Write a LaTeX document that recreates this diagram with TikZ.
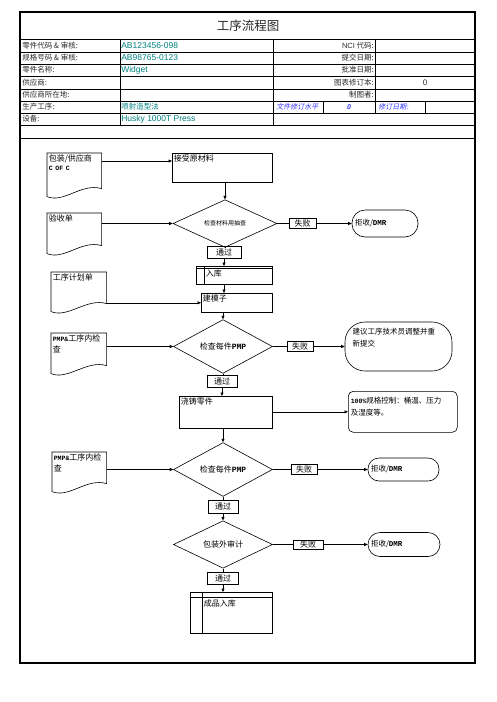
\documentclass[tikz,border=0pt]{standalone}
\usepackage{fontspec}
\setmainfont{Noto Sans CJK SC}
\newfontfamily\arial{Liberation Sans}
\newfontfamily\mono{Liberation Mono}
\newfontfamily\cjkit[FakeSlant=0.2]{Noto Sans CJK SC}
\usetikzlibrary{shapes.geometric,arrows.meta}
\definecolor{tealtxt}{RGB}{0,128,128}
\definecolor{bluetxt}{RGB}{51,51,255}
\definecolor{txtgray}{RGB}{40,40,40}
\newcommand{\mb}[1]{{\mono\bfseries #1}}
\tikzset{
  arr/.style={-{Triangle[length=3.5pt,width=3pt]}},
  cell/.style={inner sep=0pt,text=txtgray,font=\fontsize{7.5}{9}\selectfont},
  valtxt/.style={inner sep=0pt,anchor=west,text=tealtxt,font=\fontsize{8.5}{10}\selectfont},
  bluecell/.style={inner sep=0pt,text=bluetxt,font=\cjkit\fontsize{7}{9}\selectfont},
  procbox/.style={draw,anchor=north west,inner sep=0pt},
  boxtxt/.style={anchor=north west,inner sep=1.5pt,align=left,font=\fontsize{8}{11}\selectfont},
  docbox/.style={anchor=north west,inner sep=0pt,minimum width=54pt},
  doctxt/.style={anchor=north west,inner sep=1.5pt,align=left,text width=52pt,font=\fontsize{8}{11}\selectfont},
  decision/.style={draw,diamond,inner sep=0pt,minimum width=99pt,minimum height=35pt,font=\fontsize{8}{10}\selectfont},
  tag/.style={draw,inner sep=0pt,minimum height=10pt,font=\fontsize{8}{10}\selectfont},
  term/.style={draw,inner sep=2pt,align=left,font=\fontsize{7.5}{10}\selectfont},
}
\begin{document}
\begin{tikzpicture}[x=1pt,y=-1pt,line width=0.6pt]
\useasboundingbox (0,0) rectangle (496,702);
%%% header table
\draw[line width=1.2pt] (20,12) rectangle (475,663);
\foreach \y in {39,52,64,76,89,101,113,125,138}
  \draw (20,\y) -- (475,\y);
\draw (120,39) -- (120,125);
\draw (273,39) -- (273,125);
\draw (375,39) -- (375,113);
\draw (323,101) -- (323,113);
\draw (425,101) -- (425,113);
\node[font=\fontsize{12.5}{14}\selectfont,text=txtgray] (title) at (248,25.5) {工序流程图};
\foreach \t/\y [count=\i] in {{零件代码 \& 审核:}/45.5,{规格号码 \& 审核:}/58,零件名称:/70,供应商:/82.5,供应商所在地:/95,生产工序:/107,设备:/119}
  \node[cell,anchor=west] (lab\i) at (22,\y) {\t};
\foreach \t/\y [count=\i] in {AB123456-098/45.5,AB98765-0123/58,Widget/70,Husky 1000T Press/119}
  \node[valtxt] (val\i) at (121,\y) {\arial \t};
\node[valtxt,font=\fontsize{7.5}{9}\selectfont] (proc) at (121,107) {喷射造型法};
\foreach \t/\y [count=\i] in {{\arial NCI} 代码:/45.5,提交日期:/58,批准日期:/70,图表修订本:/82.5,制图者:/95}
  \node[cell,anchor=east] (rlab\i) at (374,\y) {\t};
\node[cell,font=\arial\fontsize{8}{9}\selectfont] (rev) at (425,82.5) {0};
\node[bluecell,anchor=west] (docrev) at (276,107) {文件修订水平};
\node[bluecell,font=\arial\itshape\bfseries\fontsize{7}{9}\selectfont] (docrevno) at (349,107) {0};
\node[bluecell,anchor=west] (revdate) at (378,107) {修订日期:};
%%% documents on the left
\node[docbox,minimum height=35pt,label={[doctxt]north west:包装/供应商\\[-2pt]{\fontsize{6.5}{8}\selectfont\mb{C OF C}}}] (d1) at (47,153) {};
\node[docbox,minimum height=32pt,label={[doctxt]north west:验收单}] (d2) at (47,213) {};
\node[docbox,minimum width=55pt,minimum height=31pt,label={[doctxt]north west:工序计划单}] (d3) at (51,272) {};
\node[docbox,minimum width=55pt,minimum height=32pt,label={[doctxt]north west:{\fontsize{6.5}{8}\selectfont\mb{PMP\&}}工序内检\\查}] (d4) at (51,333) {};
\node[docbox,minimum height=31pt,label={[doctxt]north west:{\fontsize{6.5}{8}\selectfont\mb{PMP\&}}工序内检\\查}] (d5) at (52,452) {};
\foreach \d in {d1,d2,d3,d4,d5}
  \draw (\d.north west) -- (\d.north east) -- (\d.south east)
    .. controls +(-20,-6) and +(17,7) .. ([yshift=-8pt]\d.south west) -- cycle;
%%% main column
\node[procbox,minimum width=100pt,minimum height=29pt,label={[boxtxt]north west:接受原材料}] (recv) at (172,153) {};
\node[decision,minimum width=104pt,minimum height=31pt,font=\fontsize{6}{8}\selectfont] (dia1) at (225,223.5) {检查材料用抽查};
\node[tag,minimum width=34pt,minimum height=12pt] (pass1) at (224,252) {通过};
\node[procbox,minimum width=76pt,minimum height=18pt,label={[boxtxt,xshift=8pt,yshift=-2pt]north west:入库}] (store) at (196,266) {};
\draw ([yshift=-2pt]store.north west) -- ([yshift=-2pt]store.north east);
\draw ([xshift=8pt]store.north west) -- ([xshift=8pt]store.south west);
\node[procbox,minimum width=71pt,minimum height=19pt,label={[boxtxt]north west:建模子}] (mold) at (201,293) {};
\node[decision] (dia2) at (223,346.5) {检查每件\mb{PMP}};
\node[tag,minimum width=30pt,minimum height=12pt] (pass2) at (222,381) {通过};
\node[procbox,minimum width=93pt,minimum height=32pt,label={[boxtxt]north west:浇铸零件}] (cast) at (179,396) {};
\node[draw,rounded corners=5pt,anchor=north west,minimum width=109pt,minimum height=41pt,inner sep=0pt,
  label={[boxtxt,xshift=1pt,yshift=-4pt,font=\fontsize{7.5}{12}\selectfont]north west:{\fontsize{6.5}{8}\selectfont\mb{100\%}}规格控制：桶温、压力\\及湿度等。}] (note) at (348,391) {};
\node[decision] (dia3) at (223,469.5) {检查每件\mb{PMP}};
\node[tag,minimum width=30pt,minimum height=13pt] (pass3) at (223,506.5) {通过};
\node[decision] (dia4) at (223,544.5) {包装外审计};
\node[tag,minimum width=31pt,minimum height=12pt] (pass4) at (223,578) {通过};
\node[procbox,minimum width=82pt,minimum height=41pt,label={[boxtxt,xshift=12pt,yshift=-6pt]north west:成品入库}] (final) at (190,592) {};
\draw ([yshift=-5pt]final.north west) -- ([yshift=-5pt]final.north east);
\draw ([xshift=12pt]final.north west) -- ([xshift=12pt]final.south west);
%%% fail branch
\node[tag,minimum width=27pt] (fail1) at (302.5,223.5) {失败};
\node[term,rounded corners=13pt,minimum width=66pt,minimum height=27pt,text width=60pt] (term1) at (385,223.5) {拒收/\mb{DMR}};
\node[tag,minimum width=26pt] (fail2) at (300,346.5) {失败};
\node[draw,rounded corners=20pt,minimum width=107pt,minimum height=49pt,inner sep=0pt,
  label={[boxtxt,xshift=6pt,yshift=-5pt,font=\fontsize{7.5}{12}\selectfont]north west:建议工序技术员调整并重\\新提交}] (term2) at (398.5,346.5) {};
\node[tag,minimum width=26pt] (fail3) at (304,469.5) {失败};
\node[term,rounded corners=11pt,minimum width=71pt,minimum height=23pt,text width=65pt] (term3) at (403.5,469.5) {拒收/\mb{DMR}};
\node[tag,minimum width=30pt,minimum height=9pt] (fail4) at (308,544.5) {失败};
\node[term,rounded corners=12pt,minimum width=72pt,minimum height=24pt,text width=66pt] (term4) at (404,544.5) {拒收/\mb{DMR}};
%%% connectors
\draw[arr] ([yshift=-8pt]d1.north east) -- ([yshift=-8pt]recv.north west);
\draw[arr] (d2.east |- dia1.west) -- (dia1.west);
\draw[arr] (d3.east |- mold.west) -- (mold.west);
\draw[arr] (d4.east |- dia2.west) -- (dia2.west);
\draw[arr] (d5.east |- dia3.west) -- (dia3.west);
\draw[arr] (dia1.north |- recv.south) -- (dia1.north);
\draw (dia1.south) -- (dia1.south |- pass1.north);
\draw[arr] (pass1.south) -- (pass1.south |- store.north);
\draw[arr] (pass1.south |- store.south) -- (pass1.south |- mold.north);
\draw[arr] (dia2.north |- mold.south) -- (dia2.north);
\draw (dia2.south) -- (dia2.south |- pass2.north);
\draw[arr] (pass2.south) -- (pass2.south |- cast.north);
\draw[arr] (cast.east |- note.west) -- (note.west);
\draw[arr] (dia3.north |- cast.south) -- (dia3.north);
\draw (dia3.south) -- (pass3.north);
\draw[arr] (pass3.south) -- (dia4.north);
\draw (dia4.south) -- (pass4.north);
\draw[arr] (pass4.south) -- (pass4.south |- final.north);
\foreach \i in {1,2,3,4} {
  \draw (dia\i.east) -- (fail\i.west);
  \draw[arr] (fail\i.east) -- (fail\i.east -| term\i.west);
}
\end{tikzpicture}
\end{document}
